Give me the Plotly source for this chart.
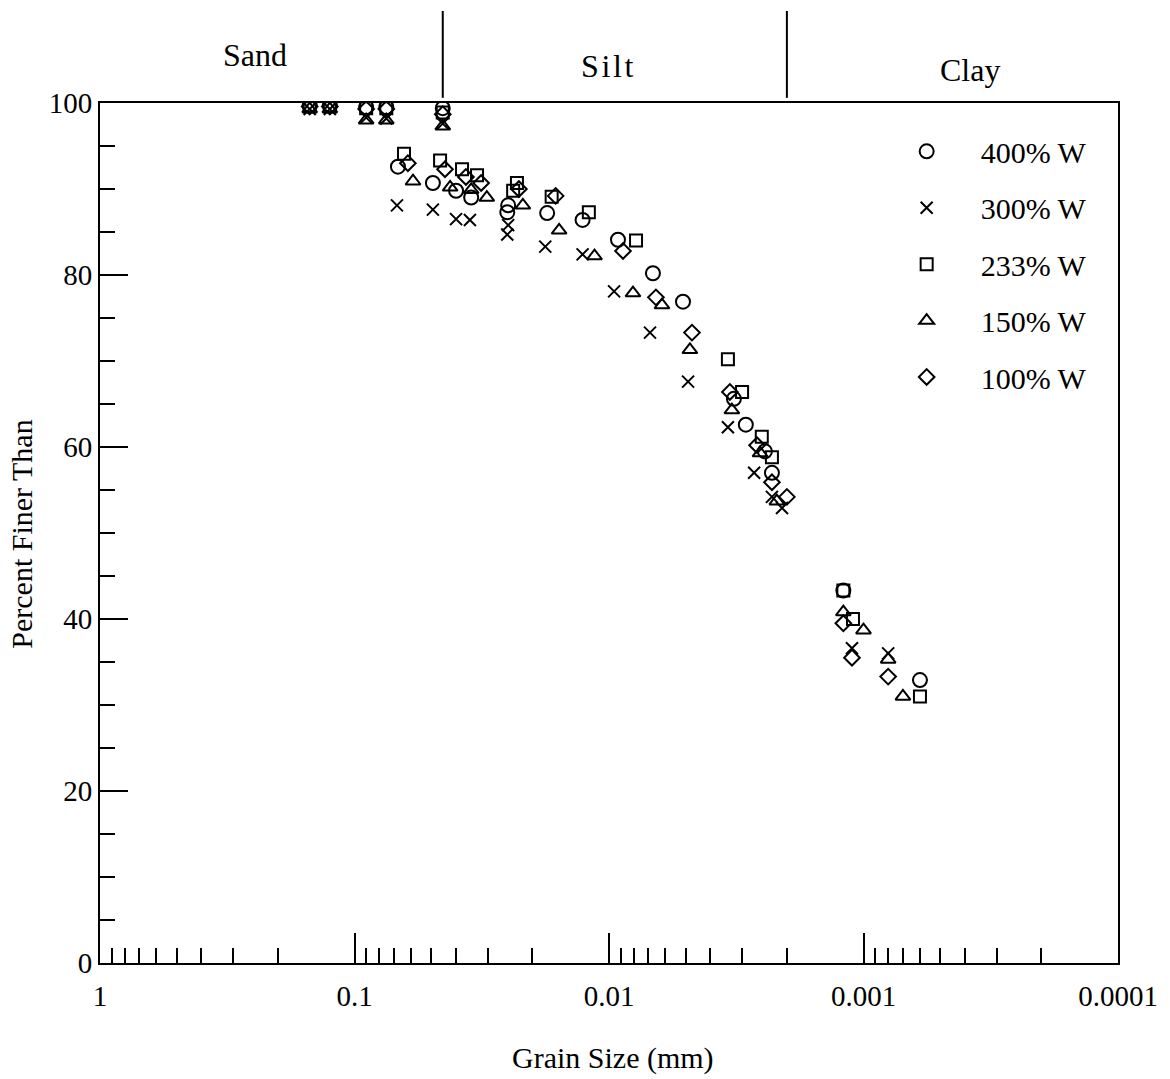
import math
import plotly.graph_objects as go

# Grain-size distribution (hydrometer + sieve) for five initial water contents
size_400 = [0.150, 0.125, 0.090, 0.075, 0.045, 0.0675, 0.0492, 0.0399, 0.0348, 0.0249, 0.0251,
            0.0175, 0.0127, 0.00922, 0.00672, 0.00512, 0.00323, 0.00290, 0.00244, 0.00229,
            0.00120, 0.00060]
pct_400 = [99.7, 99.7, 99.5, 99.5, 99.4, 92.6, 90.7, 89.8, 89.0, 88.1, 87.3,
           87.2, 86.4, 84.1, 80.2, 76.9, 65.6, 62.6, 59.5, 57.0,
           43.3, 32.9]

size_300 = [0.150, 0.125, 0.090, 0.075, 0.045, 0.0681, 0.0492, 0.0399, 0.0352, 0.0249, 0.0251,
            0.0178, 0.0127, 0.00955, 0.00690, 0.00489, 0.00341, 0.00269, 0.00229, 0.00209,
            0.00111, 0.00080]
pct_300 = [99.3, 99.3, 98.3, 98.2, 97.6, 88.1, 87.6, 86.5, 86.4, 85.8, 84.7,
           83.3, 82.4, 78.1, 73.3, 67.6, 62.3, 57.0, 54.2, 52.9,
           36.6, 36.0]

size_233 = [0.150, 0.125, 0.090, 0.075, 0.045, 0.0639, 0.0461, 0.0378, 0.0330, 0.0230, 0.0238,
            0.0168, 0.0120, 0.00783, 0.00341, 0.00300, 0.00251, 0.00229,
            0.00120, 0.00110, 0.00060]
pct_233 = [99.6, 99.6, 99.4, 99.4, 98.9, 94.1, 93.3, 92.3, 91.6, 90.7, 89.8,
           89.1, 87.3, 84.0, 70.2, 66.4, 61.2, 58.8,
           43.3, 40.0, 31.0]

size_150 = [0.150, 0.125, 0.090, 0.075, 0.045, 0.0589, 0.0421, 0.0348, 0.0302, 0.0218,
            0.0157, 0.0114, 0.00805, 0.00619, 0.00481, 0.00329, 0.00255, 0.00219,
            0.00120, 0.00100, 0.00080, 0.00070]
pct_150 = [99.3, 99.3, 98.0, 98.0, 97.3, 90.9, 90.2, 89.9, 89.0, 88.1,
           85.2, 82.2, 77.9, 76.5, 71.3, 64.3, 59.3, 53.7,
           40.8, 38.7, 35.3, 31.0]

size_100 = [0.150, 0.125, 0.090, 0.075, 0.045, 0.0617, 0.0441, 0.0365, 0.0318, 0.0226,
            0.0162, 0.00881, 0.00654, 0.00472, 0.00335, 0.00262, 0.00229, 0.00200,
            0.00120, 0.00111, 0.00080]
pct_100 = [99.6, 99.6, 99.3, 99.3, 98.7, 93.0, 92.3, 91.4, 90.7, 90.0,
           89.2, 82.8, 77.4, 73.3, 66.4, 60.2, 55.9, 54.2,
           39.5, 35.5, 33.3]

series_names = ["400% W", "300% W", "233% W", "150% W", "100% W"]

# Axis ticks
x_range_mm = (1, 0.0001)
x_major = [1, 0.1, 0.01, 0.001, 0.0001]
x_major_text = ["1", "0.1", "0.01", "0.001", "0.0001"]
x_minor = [m * 10.0 ** e for e in (-1, -2, -3, -4) for m in range(2, 10)]
y_major = [0, 20, 40, 60, 80, 100]

# Soil-class boundaries (mm) and labels
sand_silt_mm = 0.045
silt_clay_mm = 0.002
zone_names = ["Sand", "S\u200ai\u200al\u200at", "Clay"]

FONT = "Liberation Serif"

fig = go.Figure()

marker_styles = [
    dict(symbol="circle-open", size=14),
    dict(symbol="x-thin", size=12),
    dict(symbol="square-open", size=12),
    dict(symbol="triangle-up-open", size=13),
    dict(symbol="diamond-open", size=12),
]
data = [(size_400, pct_400), (size_300, pct_300), (size_233, pct_233),
        (size_150, pct_150), (size_100, pct_100)]

for name, (xs, ys), ms in zip(series_names, data, marker_styles):
    fig.add_trace(go.Scatter(
        x=xs, y=ys, mode="markers", name=name, legendgroup=name,
        marker=dict(symbol=ms["symbol"], size=ms["size"], color="black",
                    line=dict(color="black", width=2)),
    ))


def paper_x(mm):
    """Horizontal paper position of a grain size on the reversed log axis."""
    lo, hi = math.log10(x_range_mm[0]), math.log10(x_range_mm[1])
    return (math.log10(mm) - lo) / (hi - lo)


# boundary lines rising above the plot frame
for b in (sand_silt_mm, silt_clay_mm):
    fig.add_shape(type="line", xref="paper", yref="paper",
                  x0=paper_x(b), x1=paper_x(b), y0=1.006, y1=1.107,
                  line=dict(color="black", width=2))

zone_pos = [(0.152, 1.056), (0.499, 1.043), (0.855, 1.038)]
for label, (px, py) in zip(zone_names, zone_pos):
    fig.add_annotation(text=label, xref="paper", yref="paper", x=px, y=py,
                       showarrow=False, xanchor="center", yanchor="middle",
                       font=dict(family=FONT, size=32, color="black"))

fig.add_annotation(text="Grain Size (mm)", xref="paper", yref="paper",
                   x=0.504, y=-0.110, showarrow=False, xanchor="center", yanchor="middle",
                   font=dict(family=FONT, size=30, color="black"))
fig.add_annotation(text="Percent Finer Than", xref="paper", yref="paper",
                   x=-0.0766, y=0.498, showarrow=False, textangle=-90,
                   xanchor="center", yanchor="middle",
                   font=dict(family=FONT, size=30, color="black"))

fig.update_layout(
    width=1170, height=1079,
    margin=dict(l=100, r=52, t=103, b=116),
    paper_bgcolor="white", plot_bgcolor="white",
    font=dict(family=FONT, size=29, color="black"),
    showlegend=True,
    legend=dict(x=0.759, y=0.974, xanchor="left", yanchor="top",
                bgcolor="rgba(0,0,0,0)", borderwidth=0,
                font=dict(family=FONT, size=30, color="black"),
                itemwidth=98, tracegroupgap=14.4),
)

fig.update_xaxes(
    type="log", range=[math.log10(x_range_mm[0]), math.log10(x_range_mm[1])],
    tickmode="array", tickvals=x_major, ticktext=x_major_text,
    tickfont=dict(family=FONT, size=29, color="black"),
    ticks="inside", ticklen=30, tickwidth=1.5, tickcolor="black",
    showline=True, linecolor="black", linewidth=2, mirror=True,
    showgrid=False, zeroline=False, ticklabelstandoff=6,
    minor=dict(tickmode="array", tickvals=x_minor, ticks="inside", ticklen=15,
               tickwidth=1.5, tickcolor="black", showgrid=False),
)
fig.update_yaxes(
    range=[0, 100], tickmode="array", tickvals=y_major,
    tickfont=dict(family=FONT, size=29, color="black"),
    ticks="inside", ticklen=28, tickwidth=1.5, tickcolor="black",
    showline=True, linecolor="black", linewidth=2, mirror=True,
    showgrid=False, zeroline=False, ticklabelstandoff=0,
    minor=dict(dtick=5, tick0=0, ticks="inside", ticklen=15,
               tickwidth=1.5, tickcolor="black", showgrid=False),
)

fig.write_html("out.html")
